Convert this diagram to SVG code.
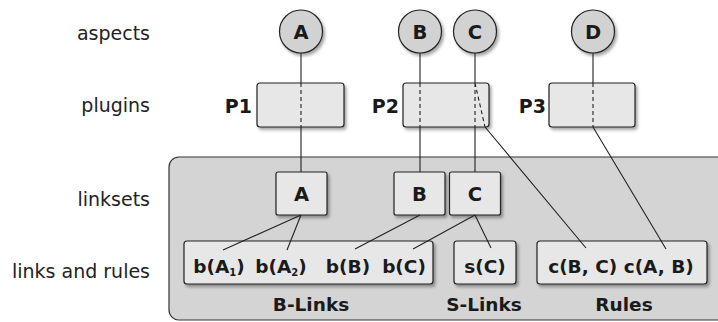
<svg xmlns="http://www.w3.org/2000/svg" width="718" height="322" viewBox="0 0 718 322">
<defs>
<filter id="sh" x="-20%" y="-20%" width="150%" height="160%">
<feDropShadow dx="2" dy="2.5" stdDeviation="1.5" flood-color="#000" flood-opacity="0.35"/>
</filter>
</defs>
<style>
.lbl{font-family:"DejaVu Sans",sans-serif;font-size:19px;fill:#222;text-anchor:end}
.b{font-family:"DejaVu Sans",sans-serif;font-weight:bold;font-size:18.5px;fill:#1a1a1a;text-anchor:middle}
.bl{font-family:"DejaVu Sans",sans-serif;font-weight:bold;font-size:19.5px;fill:#1a1a1a;text-anchor:middle}
.pl{font-family:"DejaVu Sans",sans-serif;font-weight:bold;font-size:19px;fill:#1a1a1a;text-anchor:end}
.sub{font-size:10px}
.circ{fill:#d2d2d2;stroke:#222;stroke-width:1.2;filter:url(#sh)}
.box{fill:#e7e7e7;stroke:#222;stroke-width:1.2;filter:url(#sh)}
.cont{fill:#d4d4d4;stroke:#333;stroke-width:1.2}
.ln{stroke:#222;stroke-width:1.1;fill:none}
.dl{stroke:#222;stroke-width:1.1;fill:none;stroke-dasharray:4 3}
</style>
<rect width="718" height="322" fill="#fff"/>
<g id="row-labels">
<text class="lbl" x="150" y="40">aspects</text>
<text class="lbl" x="150" y="112">plugins</text>
<text class="lbl" x="150" y="206">linksets</text>
<text class="lbl" x="150" y="278">links and rules</text>
</g>
<g id="container">
<rect class="cont" x="169" y="157" width="600" height="163" rx="10"/>
</g>
<g id="aspect-A"><circle class="circ" cx="301" cy="31.5" r="21.5"/><text class="bl" x="301" y="39">A</text></g>
<g id="aspect-B"><circle class="circ" cx="420" cy="31.5" r="21.5"/><text class="bl" x="420" y="39">B</text></g>
<g id="aspect-C"><circle class="circ" cx="475" cy="31.5" r="21.5"/><text class="bl" x="475" y="39">C</text></g>
<g id="aspect-D"><circle class="circ" cx="593" cy="31.5" r="21.5"/><text class="bl" x="593" y="39">D</text></g>
<g id="plugin-P1"><rect class="box" x="257" y="83" width="87" height="44" rx="3"/><text class="pl" x="252" y="113">P1</text></g>
<g id="plugin-P2"><rect class="box" x="403" y="83" width="86" height="44" rx="3"/><text class="pl" x="399" y="113">P2</text></g>
<g id="plugin-P3"><rect class="box" x="549" y="83" width="86" height="44" rx="3"/><text class="pl" x="546" y="113">P3</text></g>
<g id="linkset-A"><rect class="box" x="276" y="172" width="51" height="43" rx="2"/><text class="bl" x="301.5" y="201">A</text></g>
<g id="linkset-B"><rect class="box" x="394" y="172" width="51" height="43" rx="2"/><text class="bl" x="419.5" y="201">B</text></g>
<g id="linkset-C"><rect class="box" x="449.5" y="172" width="51" height="43" rx="2"/><text class="bl" x="475" y="201">C</text></g>
<g id="b-links">
<rect class="box" x="184" y="241" width="249" height="43" rx="3"/>
<text class="b" x="219" y="272.5">b(A<tspan class="sub" dy="3">1</tspan><tspan dy="-3">)</tspan></text>
<text class="b" x="281" y="272.5">b(A<tspan class="sub" dy="3">2</tspan><tspan dy="-3">)</tspan></text>
<text class="b" x="348" y="272.5">b(B)</text>
<text class="b" x="404" y="272.5">b(C)</text>
<text class="b" x="311" y="311">B-Links</text>
</g>
<g id="s-links">
<rect class="box" x="454" y="241" width="62" height="43" rx="3"/>
<text class="b" x="485" y="272.5">s(C)</text>
<text class="b" x="484" y="311">S-Links</text>
</g>
<g id="rules">
<rect class="box" x="537" y="241" width="170" height="43" rx="3"/>
<text class="b" x="621" y="272.5">c(B, C) c(A, B)</text>
<text class="b" x="624" y="311">Rules</text>
</g>
<g id="connectors">
<path class="ln" d="M301 53V83M301 127V172M420 53V83M420 127V172M475 53V83M475 127V172M593 53V83"/>
<path class="dl" d="M301 83V127M420 83V127M475 83V127M593 83V127M475 83L485 127"/>
<path class="ln" d="M485 127L586 248M593 127L666 249"/>
<path class="ln" d="M301 215L223 250M301 215L287 250M420 215L355 249M475 215L413 249M475 215L491 248"/>
</g>
</svg>
